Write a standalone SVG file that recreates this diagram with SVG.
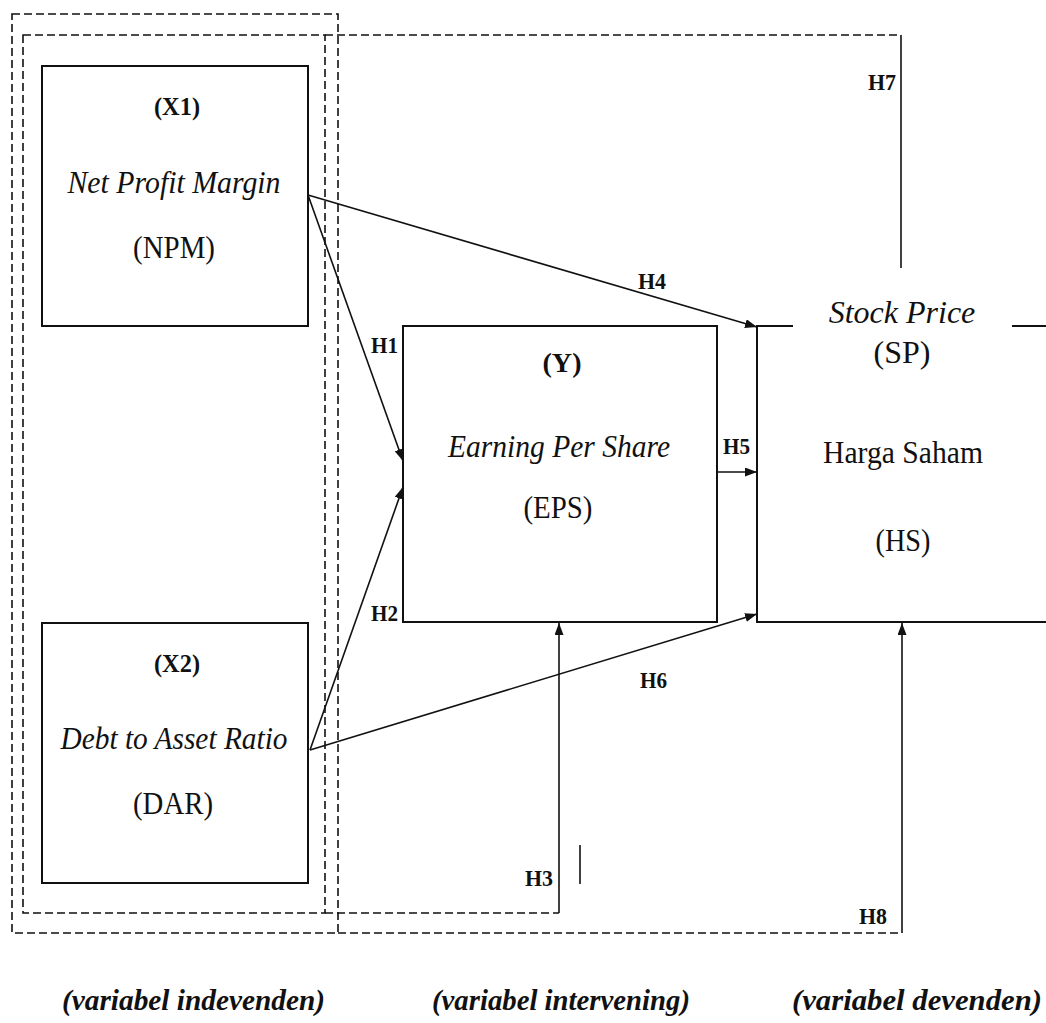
<svg xmlns="http://www.w3.org/2000/svg" width="1046" height="1023" viewBox="0 0 1046 1023">
<style>
.box{fill:none;stroke:#111;stroke-width:2}
.dash{fill:none;stroke:#111;stroke-width:1.6;stroke-dasharray:8 4}
.ln{fill:none;stroke:#111;stroke-width:1.6}
.arr{fill:none;stroke:#111;stroke-width:1.6;marker-end:url(#ah)}
text{font-family:'Liberation Serif','Times New Roman',Tinos,'DejaVu Serif',serif}
.t{fill:#111;text-anchor:middle}
.it{font-style:italic}
.b{font-weight:bold}
.h{font-weight:bold;font-size:24px;fill:#111}
.cap{font-weight:bold;font-style:italic;font-size:29px;fill:#111}
</style>
<defs>
<marker id="ah" markerUnits="userSpaceOnUse" markerWidth="13" markerHeight="10" refX="12" refY="4.5" orient="auto">
<path d="M0,0 L12,4.5 L0,9 z" fill="#111"/>
</marker>
</defs>
<rect width="1046" height="1023" fill="#fff"/>
<g id="containers">
<rect class="dash" x="12" y="14" width="326" height="919"/>
<rect class="dash" x="23" y="35" width="302" height="878"/>
<path class="dash" d="M325,35 H901"/>
<path class="dash" d="M325,913 H559"/>
<path class="dash" d="M338,933 H902"/>
</g>
<g id="node-x1">
<rect class="box" x="42" y="66" width="266" height="260"/>
<text class="t b" x="177" y="115" font-size="26" textLength="46" lengthAdjust="spacingAndGlyphs">(X1)</text>
<text class="t it" x="174" y="193" font-size="31" textLength="213" lengthAdjust="spacingAndGlyphs">Net Profit Margin</text>
<text class="t" x="174" y="258" font-size="31" textLength="82" lengthAdjust="spacingAndGlyphs">(NPM)</text>
</g>
<g id="node-x2">
<rect class="box" x="42" y="623" width="266" height="260"/>
<text class="t b" x="177" y="672" font-size="26" textLength="46" lengthAdjust="spacingAndGlyphs">(X2)</text>
<text class="t it" x="174" y="749" font-size="31" textLength="227" lengthAdjust="spacingAndGlyphs">Debt to Asset Ratio</text>
<text class="t" x="173" y="814" font-size="31" textLength="80" lengthAdjust="spacingAndGlyphs">(DAR)</text>
</g>
<g id="node-y">
<rect class="box" x="403" y="326" width="314" height="296"/>
<text class="t b" x="562" y="372" font-size="28" textLength="39" lengthAdjust="spacingAndGlyphs">(Y)</text>
<text class="t it" x="559" y="457" font-size="31" textLength="222" lengthAdjust="spacingAndGlyphs">Earning Per Share</text>
<text class="t" x="558" y="518" font-size="31" textLength="69" lengthAdjust="spacingAndGlyphs">(EPS)</text>
</g>
<g id="node-hs">
<path class="box" d="M1046,326 H1012 M793,326 H757 V622 H1046"/>
<text class="t it" x="902" y="323" font-size="32">Stock Price</text>
<text class="t" x="902" y="363" font-size="32">(SP)</text>
<text class="t" x="903" y="463" font-size="31" textLength="160" lengthAdjust="spacingAndGlyphs">Harga Saham</text>
<text class="t" x="903" y="551" font-size="31" textLength="55" lengthAdjust="spacingAndGlyphs">(HS)</text>
</g>
<g id="connectors">
<line class="arr" x1="308" y1="195" x2="403" y2="461"/>
<line class="arr" x1="308" y1="195" x2="757" y2="327"/>
<line class="arr" x1="310" y1="750" x2="403" y2="487"/>
<line class="arr" x1="310" y1="750" x2="757" y2="614"/>
<line class="arr" x1="717" y1="472" x2="757" y2="472"/>
<line class="arr" x1="559" y1="913" x2="559" y2="623"/>
<line class="arr" x1="902" y1="933" x2="902" y2="623"/>
<line class="ln" x1="901" y1="35" x2="901" y2="268"/>
<line class="ln" x1="580" y1="845" x2="580" y2="884"/>
<text class="h" x="371" y="353" textLength="27" lengthAdjust="spacingAndGlyphs">H1</text>
<text class="h" x="371" y="621" textLength="27" lengthAdjust="spacingAndGlyphs">H2</text>
<text class="h" x="525" y="886" textLength="28" lengthAdjust="spacingAndGlyphs">H3</text>
<text class="h" x="638" y="289" textLength="28" lengthAdjust="spacingAndGlyphs">H4</text>
<text class="h" x="723" y="454" textLength="27" lengthAdjust="spacingAndGlyphs">H5</text>
<text class="h" x="640" y="688" textLength="27" lengthAdjust="spacingAndGlyphs">H6</text>
<text class="h" x="868" y="90" textLength="28" lengthAdjust="spacingAndGlyphs">H7</text>
<text class="h" x="859" y="924" textLength="28" lengthAdjust="spacingAndGlyphs">H8</text>
</g>
<g id="captions">
<text class="cap" x="62" y="1010" textLength="263" lengthAdjust="spacingAndGlyphs">(variabel indevenden)</text>
<text class="cap" x="432" y="1010" textLength="258" lengthAdjust="spacingAndGlyphs">(variabel intervening)</text>
<text class="cap" x="792" y="1010" textLength="250" lengthAdjust="spacingAndGlyphs">(variabel devenden)</text>
</g>
</svg>
